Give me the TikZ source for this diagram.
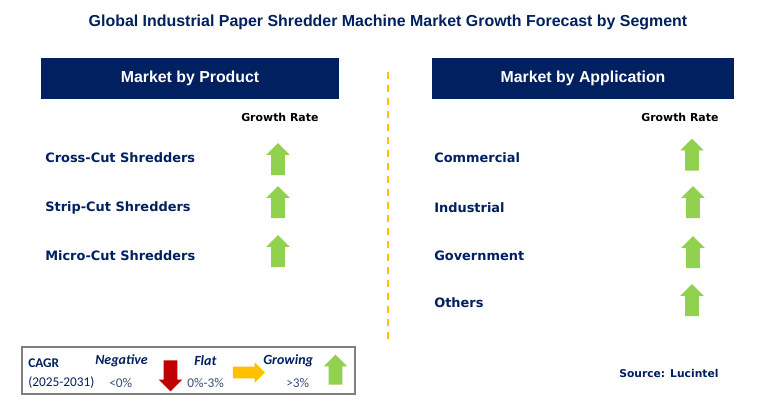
\documentclass[tikz,border=0pt]{standalone}
\usepackage{fontspec}
\setmainfont{Liberation Sans}
\newfontfamily\dvs{DejaVu Sans}
\newfontfamily\carl{Carlito}
\usetikzlibrary{shapes.arrows}
\definecolor{navy}{HTML}{002060}
\definecolor{gr}{HTML}{92D050}
\definecolor{rd}{HTML}{C00000}
\definecolor{yl}{HTML}{FFC000}
\definecolor{lg}{HTML}{3A4F7E}
\tikzset{
  hdr/.style={fill=navy,text=white,font=\bfseries\fontsize{11.9pt}{14pt}\selectfont,minimum width=223.5pt,minimum height=30.75pt,inner sep=0},
  lbl/.style={anchor=west,inner sep=0,text=navy,font=\dvs\bfseries\fontsize{9.7pt}{12pt}\selectfont},
  gro/.style={anchor=west,inner sep=0,text=black,font=\dvs\bfseries\fontsize{8.2pt}{10pt}\selectfont},
  arr/.style={single arrow,draw=none,inner xsep=0,inner ysep=4.875pt,single arrow head extend=3.75pt,minimum height=24pt,font=\fontsize{1pt}{1pt}\selectfont},
  uparr/.style={arr,fill=gr,rotate=90},
  lgt/.style={anchor=west,inner sep=0,text=lg,font=\carl\fontsize{10pt}{12pt}\selectfont},
  lgh/.style={anchor=west,inner sep=0,text=navy,font=\carl\bfseries\itshape\fontsize{10.5pt}{12pt}\selectfont},
}
\begin{document}
\begin{tikzpicture}[x=0.75pt,y=-0.75pt]
\useasboundingbox (0,0) rectangle (762,408);
\fill[white] (0,0) rectangle (762,408);
\node[text=navy,font=\bfseries\fontsize{11.95pt}{14pt}\selectfont,inner sep=0] (title) at (388,22) {Global Industrial Paper Shredder Machine Market Growth Forecast by Segment};
\node[hdr] (hp) at (190,78.5) {Market by Product};
\node[hdr,minimum width=226.5pt] (ha) at (583,78.5) {Market by Application};
\coordinate (dtop) at (388,72);
\coordinate (dbot) at (388,340);
\draw[yl,line width=1.6pt,dash pattern=on 5.25pt off 4.5pt] (dtop) -- (dbot);
% left
\node[gro] (g1) at (241,117) {Growth Rate};
\node[lbl] (p1) at (45,158) {Cross-Cut Shredders};
\node[lbl] (p2) at (45,208) {Strip-Cut Shredders};
\node[lbl] (p3) at (45,256) {Micro-Cut Shredders};
\node[uparr] (pa1) at (278,162.5) {};
\node[uparr] (pa2) at (278,205.5) {};
\node[uparr] (pa3) at (278,254.5) {};
% right
\node[gro] (g2) at (641,117) {Growth Rate};
\node[lbl] (a1) at (434,158) {Commercial};
\node[lbl] (a2) at (434,208) {Industrial};
\node[lbl] (a3) at (434,256) {Government};
\node[lbl] (a4) at (434,303) {Others};
\node[uparr] (aa1) at (692,158) {};
\node[uparr] (aa2) at (693,205.5) {};
\node[uparr] (aa3) at (693,255.5) {};
\node[uparr] (aa4) at (692,303.5) {};
\node[anchor=west,inner sep=0,text=navy,font=\dvs\bfseries\fontsize{8.05pt}{10pt}\selectfont] (src) at (619,373) {Source: Lucintel};
% legend
\draw[draw=gray,line width=1pt] (22,347) rectangle (355,394);
\node[anchor=west,inner sep=0,text=navy,font=\carl\bfseries\fontsize{10pt}{12pt}\selectfont] (cagr) at (28,363) {CAGR};
\node[lgt,text=navy] (yrs) at (28,383) {(2025-2031)};
\node[lgh] (neg) at (95,361) {Negative};
\node[lgt] (n0) at (109,383) {<0\%};
\node[arr,fill=rd,rotate=-90,minimum height=23.25pt] (ra) at (170.5,372.5) {};
\node[lgh] (flt) at (194,361) {Flat};
\node[lgt] (f0) at (187,383) {0\%-3\%};
\node[arr,fill=yl,inner ysep=4.125pt,single arrow head extend=3.375pt,minimum height=24pt] (ya) at (246,372.5) {};
\node[lgh] (grw) at (263,361) {Growing};
\node[lgt] (g0) at (286,383) {>3\%};
\node[uparr,minimum height=22.5pt] (ga) at (335.5,373) {};
\end{tikzpicture}
\end{document}
